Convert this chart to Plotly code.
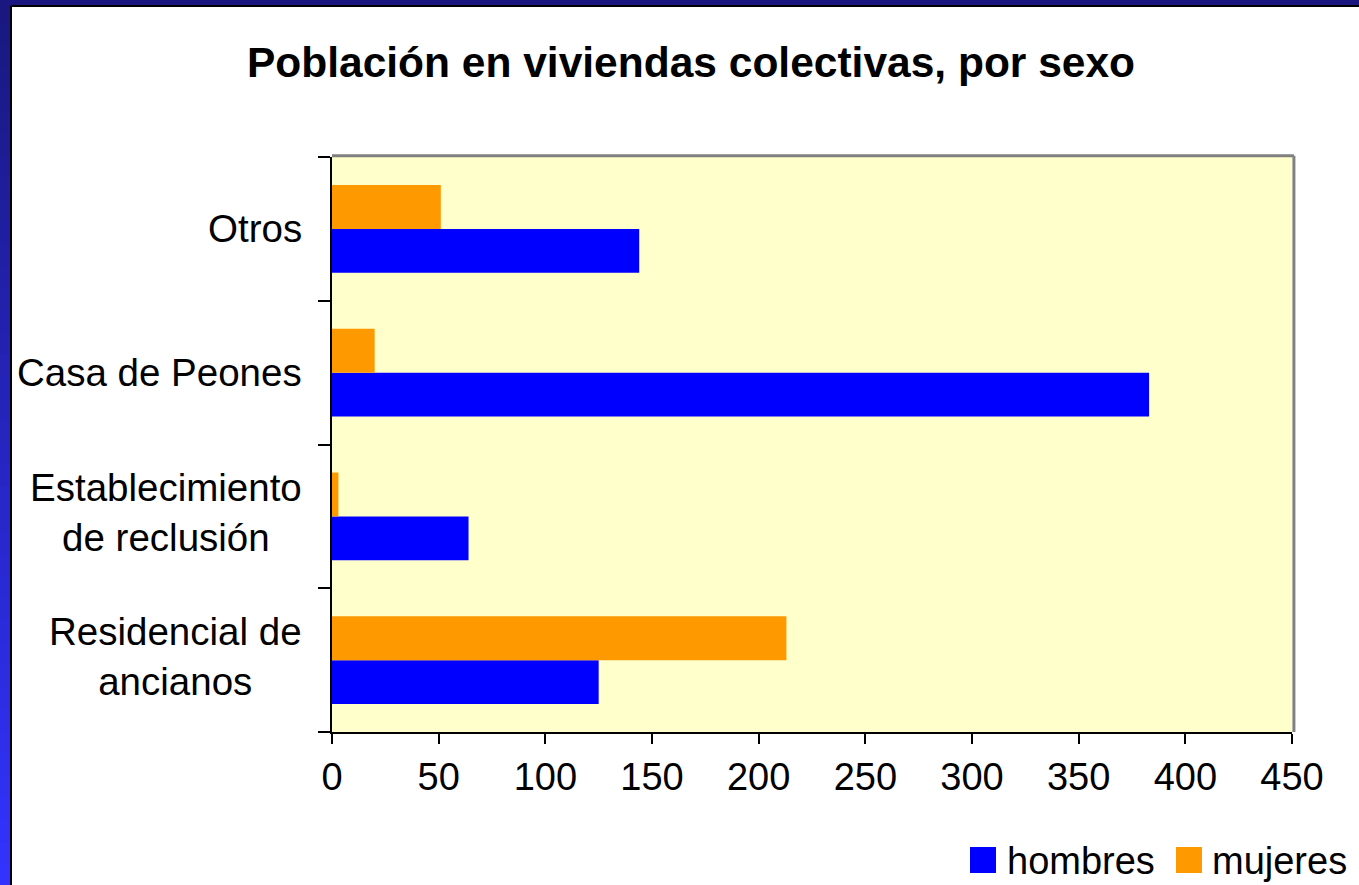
import plotly.graph_objects as go

categories = ["Residencial de ancianos", "Establecimiento de reclusión", "Casa de Peones", "Otros"]
cat_labels = ["Residencial de<br>ancianos", "Establecimiento<br>de reclusión", "Casa de Peones", "Otros"]
hombres = [125, 64, 383, 144]
mujeres = [213, 3, 20, 51]
x_ticks = [0, 50, 100, 150, 200, 250, 300, 350, 400, 450]

W, H = 1359, 885
L, R, T, B = 332, 1292, 157, 732
FONT = "Liberation Sans, Arial, sans-serif"


def px(x):
    return (x - L) / (R - L)


def py(y):
    return (B - y) / (B - T)


fig = go.Figure()
fig.add_trace(go.Bar(y=categories, x=hombres, orientation="h", name="hombres",
                     marker=dict(color="#0000ff", line=dict(width=0)), showlegend=False))
fig.add_trace(go.Bar(y=categories, x=mujeres, orientation="h", name="mujeres",
                     marker=dict(color="#ff9900", line=dict(width=0)), showlegend=False))

shapes = []
# slide frame: gradient blue strips
n = 40
for i in range(n):
    t = i / (n - 1)
    r = int(0x1a + (0x33 - 0x1a) * t)
    g = int(0x18 + (0x33 - 0x18) * t)
    b = int(0x80 + (0xff - 0x80) * t)
    y0 = i * H / n
    y1 = (i + 1) * H / n + 1
    shapes.append(dict(type="rect", xref="paper", yref="paper", x0=px(0), x1=px(11),
                       y0=py(y1), y1=py(y0), fillcolor=f"rgb({r},{g},{b})",
                       line=dict(width=0), layer="above"))
shapes.append(dict(type="rect", xref="paper", yref="paper", x0=px(0), x1=px(W),
                   y0=py(6), y1=py(0), fillcolor="#1a1880", line=dict(width=0), layer="above"))
shapes.append(dict(type="line", xref="paper", yref="paper", x0=px(11), x1=px(11),
                   y0=py(H), y1=py(6), line=dict(color="black", width=2), layer="above"))
shapes.append(dict(type="line", xref="paper", yref="paper", x0=px(11), x1=px(W),
                   y0=py(6), y1=py(6), line=dict(color="black", width=2), layer="above"))
# plot area grey border (top/right)
shapes.append(dict(type="line", xref="paper", yref="paper", x0=0, x1=1.002, y0=1.002, y1=1.002,
                   line=dict(color="#808080", width=3), layer="below"))
shapes.append(dict(type="line", xref="paper", yref="paper", x0=1.002, x1=1.002, y0=0, y1=1.002,
                   line=dict(color="#808080", width=3), layer="below"))
# legend squares
shapes.append(dict(type="rect", xref="paper", yref="paper", x0=px(970), x1=px(996),
                   y0=py(873), y1=py(847), fillcolor="#0000ff", line=dict(width=0)))
shapes.append(dict(type="rect", xref="paper", yref="paper", x0=px(1176), x1=px(1202),
                   y0=py(873), y1=py(847), fillcolor="#ff9900", line=dict(width=0)))

annotations = []
for cat, lab in zip(categories, cat_labels):
    shift = -4 if "<br>" in lab else 0
    annotations.append(dict(x=px(304), y=cat, xref="paper", yref="y", text=lab, showarrow=False,
                            xanchor="right", yanchor="middle", align="center", yshift=-shift,
                            font=dict(family=FONT, size=38.5, color="black")))
annotations.append(dict(x=px(1005), y=py(861), xref="paper", yref="paper", text="hombres",
                        showarrow=False, xanchor="left", yanchor="middle",
                        font=dict(family=FONT, size=38, color="black")))
annotations.append(dict(x=px(1210), y=py(861), xref="paper", yref="paper", text="mujeres",
                        showarrow=False, xanchor="left", yanchor="middle",
                        font=dict(family=FONT, size=38, color="black")))

fig.update_layout(
    width=W, height=H,
    margin=dict(l=L, r=W - R, t=T, b=H - B, pad=0),
    paper_bgcolor="white", plot_bgcolor="#ffffcc",
    barmode="group", bargap=0.39, bargroupgap=0,
    title=dict(text="<b>Población en viviendas colectivas, por sexo</b>",
               x=691 / W, xanchor="center", xref="container",
               y=1 - 62 / H, yanchor="middle", yref="container",
               font=dict(family=FONT, size=42.5, color="black")),
    xaxis=dict(range=[0, 450], tickvals=x_ticks, ticks="outside", ticklen=10,
               tickcolor="black", tickwidth=1.5, showline=True, linecolor="black", linewidth=2,
               showgrid=False, zeroline=False, ticklabelstandoff=0,
               tickfont=dict(family=FONT, size=38, color="black")),
    yaxis=dict(type="category", categoryorder="array", categoryarray=categories,
               ticks="outside", ticklen=12, tickson="boundaries", tickcolor="black",
               tickwidth=1.5, showline=True, linecolor="black", linewidth=2,
               showgrid=False, zeroline=False, showticklabels=False),
    shapes=shapes, annotations=annotations,
)

fig.write_html("out.html", config={"displayModeBar": False},
               post_script="document.body.style.margin='0px';")
